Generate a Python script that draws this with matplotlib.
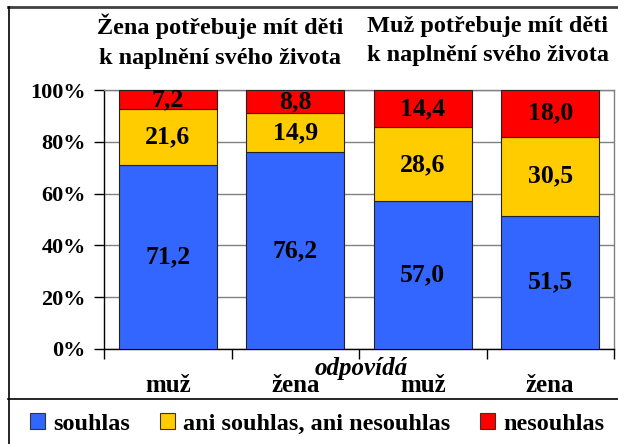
import matplotlib
matplotlib.use("Agg")
import matplotlib.pyplot as plt
from matplotlib.lines import Line2D
from matplotlib.patches import Patch

categories = ["muž", "žena", "muž", "žena"]
souhlas = [71.2, 76.2, 57.0, 51.5]
ani = [21.6, 14.9, 28.6, 30.5]
nesouhlas = [7.2, 8.8, 14.4, 18.0]
series_names = ["souhlas", "ani souhlas, ani nesouhlas", "nesouhlas"]
group_titles = ["Žena potřebuje mít děti\nk naplnění svého života",
                "Muž potřebuje mít děti\nk naplnění svého života"]
xlabel = "odpovídá"
yticks = [0, 20, 40, 60, 80, 100]

colors = ["#3366FF", "#FFCC00", "#FF0000"]
plt.rcParams['font.family'] = ['Liberation Serif', 'DejaVu Serif']
plt.rcParams['font.weight'] = 'bold'

W, H = 618, 444
fig = plt.figure(figsize=(W / 100, H / 100), dpi=100)

def fx(px):
    return px / W

def fy(py):
    return 1 - py / H

ax = fig.add_axes([fx(104), fy(349), fx(614) - fx(104), fy(90) - fy(349)])

x = list(range(len(categories)))
bw = 0.77
bottoms = [0] * len(x)
for vals, c in zip([souhlas, ani, nesouhlas], colors):
    ax.bar(x, vals, bw, bottom=bottoms, color=c, edgecolor="#222222", linewidth=0.8, zorder=3)
    for xi, v, b in zip(x, vals, bottoms):
        ax.text(xi, b + v / 2, f"{v:.1f}".replace(".", ","), ha="center", va="center",
                fontsize=18.5, fontweight="bold", zorder=4)
    bottoms = [b + v for b, v in zip(bottoms, vals)]

ax.set_xlim(-0.5, len(x) - 0.5)
ax.set_ylim(0, 100)
ax.set_yticks(yticks)
ax.set_yticklabels([f"{t}%" for t in yticks], fontsize=16, fontweight="bold")
ax.yaxis.grid(True, color="#808080", linewidth=1.0, zorder=0)
ax.tick_params(axis="y", length=7, width=1, color="black", pad=6)

ax.set_xticks([i - 0.5 for i in range(len(x) + 1)])
ax.set_xticklabels([])
ax.tick_params(axis="x", which="major", length=7, width=1, color="black")
ax.set_xticks(x, minor=True)
ax.set_xticklabels(categories, minor=True, fontsize=18, fontweight="bold")
ax.tick_params(axis="x", which="minor", length=0, pad=18)

for s in ["top", "right"]:
    ax.spines[s].set_color("#808080")
for s in ["left", "bottom"]:
    ax.spines[s].set_color("black")
for s in ax.spines.values():
    s.set_linewidth(1.0)

fig.text(fx(361), fy(368), xlabel, ha="center", va="center", fontsize=18,
         fontstyle="italic", fontweight="bold")

fig.text(fx(220), fy(41), group_titles[0], ha="center", va="center", fontsize=17.5,
         fontweight="bold", multialignment="center", linespacing=1.55)
fig.text(fx(488), fy(41), group_titles[1], ha="center", va="center", fontsize=17.5,
         fontweight="bold", multialignment="center", linespacing=1.55)

handles = [Patch(facecolor=c, edgecolor="#333333", linewidth=0.8) for c in colors]
fig.legend(handles, series_names, loc="center", bbox_to_anchor=(fx(317), fy(424)),
           ncol=3, frameon=False, prop={"size": 17.5, "weight": "bold"},
           handlelength=0.62, handleheight=0.6, handletextpad=0.33, columnspacing=1.23,
           borderpad=0, borderaxespad=0)

fig.add_artist(Line2D([fx(8), 1], [fy(7), fy(7)], color="#404040", linewidth=2))
fig.add_artist(Line2D([fx(8.5), fx(8.5)], [0, fy(7)], color="black", linewidth=1.2))
fig.add_artist(Line2D([fx(8), 1], [fy(399), fy(399)], color="black", linewidth=1.2))

fig.savefig("out.png", dpi=100)
